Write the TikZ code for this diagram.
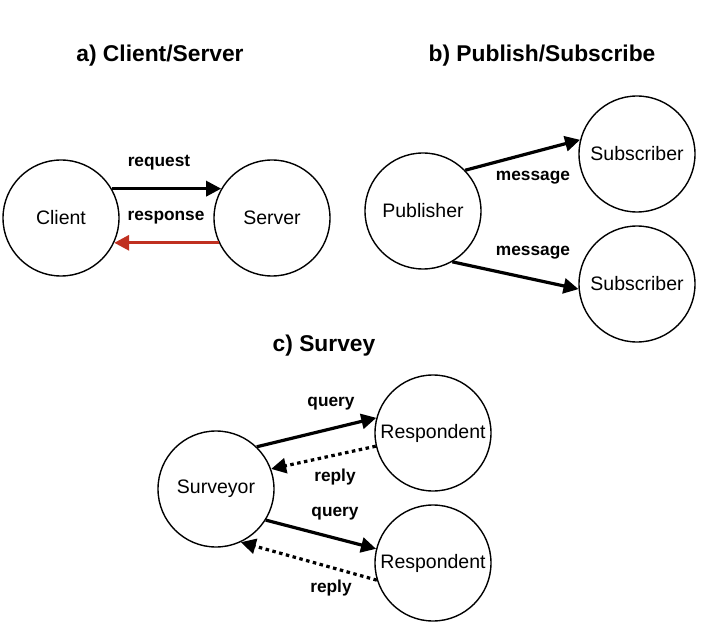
\documentclass[tikz,border=0pt]{standalone}
\usepackage{fontspec}
\setmainfont{Liberation Sans}
\usetikzlibrary{arrows.meta, positioning}
\definecolor{responsered}{RGB}{192, 48, 32}

\begin{document}
\begin{tikzpicture}[
    x=1pt, y=-1pt,
    party/.style={circle, draw, line width=1.4pt, minimum size=116pt, inner sep=0pt, font=\fontsize{19.5}{21}\selectfont},
    title/.style={font=\bfseries\fontsize{22.8}{25}\selectfont},
    lbl/.style={font=\bfseries\fontsize{17.3}{19}\selectfont},
    arrow/.style={-{Triangle[length=15pt, width=15pt]}, line width=3.2pt},
    dotarrow/.style={-{Triangle[length=15pt, width=15pt]}, line width=3.2pt, dash pattern=on 3.5pt off 3.5pt}
]
\useasboundingbox (0,0) rectangle (720,631);

% Titles
\node[title] (ta) at (160,56) {a) Client/Server};
\node[title] (tb) at (542,56) {b) Publish/Subscribe};
\node[title] (tc) at (324,346) {c) Survey};

% Client/Server
\node[party] (client) at (61,218) {Client};
\node[party] (server) at (272,218) {Server};
\draw[arrow] (client.30) -- (server.150);
\draw[arrow, responsered] (server.205) -- (client.-25);
\node[lbl] (req) at (159,163) {request};
\node[lbl] (resp) at (166,218) {response};

% Publish/Subscribe
\node[party] (pub) at (423,211) {Publisher};
\node[party] (sub1) at (637,154) {Subscriber};
\node[party] (sub2) at (637,284) {Subscriber};
\draw[arrow] (pub.44) -- (sub1.166);
\draw[arrow] (pub.-60) -- (sub2.185);
\node[lbl] (msg1) at (533,178) {message};
\node[lbl] (msg2) at (533,253) {message};

% Survey
\node[party] (surveyor) at (216,489) {Surveyor};
\node[party] (resp1) at (433,433) {Respondent};
\node[party] (resp2) at (433,563) {Respondent};
\draw[arrow] (surveyor.46) -- (resp1.165);
\draw[dotarrow] (resp1.193) -- (surveyor.20);
\draw[arrow] (surveyor.-32) -- (resp2.166);
\draw[dotarrow] (resp2.197) -- (surveyor.-65);
\node[lbl] (q1) at (331,404) {query};
\node[lbl] (r1) at (335,477) {reply};
\node[lbl] (q2) at (335,514) {query};
\node[lbl] (r2) at (331,588) {reply};

\end{tikzpicture}
\end{document}
